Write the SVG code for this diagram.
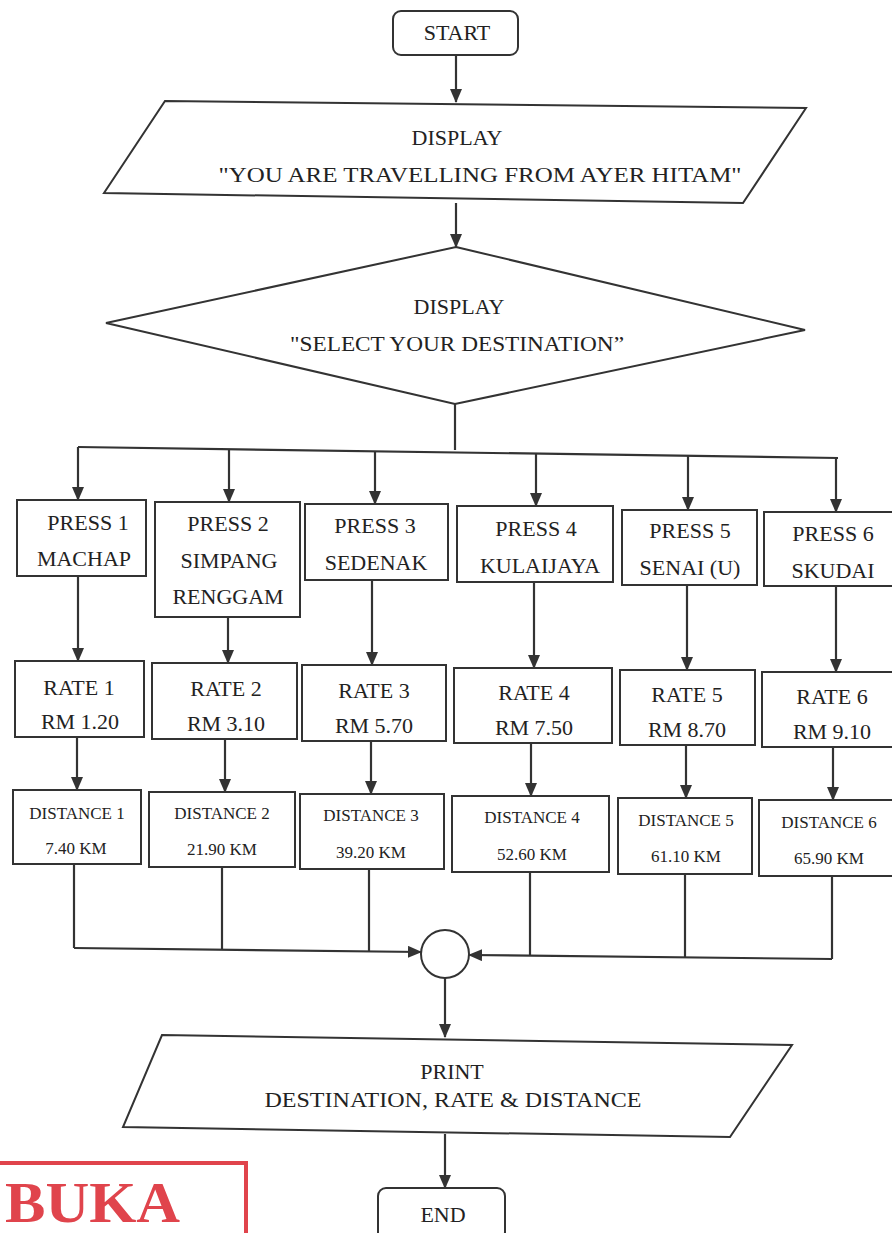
<svg xmlns="http://www.w3.org/2000/svg" width="892" height="1233" viewBox="0 0 892 1233" font-family="'Liberation Serif', 'Times New Roman', serif">
<defs>
<marker id="ah" markerUnits="userSpaceOnUse" markerWidth="14" markerHeight="12" refX="13" refY="6" orient="auto">
<path d="M0,0 L14,6 L0,12 z" fill="#333"/>
</marker>
<style>
.s{fill:#fff;stroke:#333;stroke-width:2}
.c{fill:none;stroke:#333;stroke-width:2.2}
.a{marker-end:url(#ah)}
.t{font-size:22px;fill:#222;text-anchor:middle}
.d{font-size:17px}
</style>
</defs>
<rect width="892" height="1233" fill="#fff"/>

<g id="connectors">
<path class="c a" d="M456,55 V102"/>
<path class="c a" d="M456,203 V247"/>
<path class="c" d="M455,404 V450"/>
<path class="c" d="M78,447 L838,458"/>
<path class="c a" d="M78,447 V500"/>
<path class="c a" d="M229,449 V502"/>
<path class="c a" d="M375,451 V504"/>
<path class="c a" d="M536,453 V506"/>
<path class="c a" d="M688,455 V510"/>
<path class="c a" d="M836,457 V512"/>
<path class="c a" d="M78,576 V661"/>
<path class="c a" d="M228,617 V663"/>
<path class="c a" d="M372,580 V665"/>
<path class="c a" d="M534,582 V668"/>
<path class="c a" d="M687,585 V670"/>
<path class="c a" d="M836,586 V672"/>
<path class="c a" d="M77,737 V790"/>
<path class="c a" d="M225,739 V792"/>
<path class="c a" d="M371,741 V794"/>
<path class="c a" d="M531,743 V796"/>
<path class="c a" d="M686,745 V798"/>
<path class="c a" d="M833,747 V800"/>
<path class="c" d="M74,864 V948"/>
<path class="c" d="M222,867 V950"/>
<path class="c" d="M369,869 V951"/>
<path class="c a" d="M74,948 L421,952"/>
<path class="c" d="M530,872 V956"/>
<path class="c" d="M685,874 V957"/>
<path class="c" d="M832,876 V959"/>
<path class="c a" d="M832,959 L469,955"/>
<path class="c a" d="M445,978 V1037"/>
<path class="c a" d="M445,1134 V1188"/>
</g>

<g id="start">
<rect class="s" x="393" y="11" width="125" height="44" rx="8"/>
<text class="t" x="457" y="40" font-size="21">START</text>
</g>

<g id="display1">
<polygon class="s" points="165,101 806,108 743,203 104,193"/>
<text class="t" x="457" y="145">DISPLAY</text>
<text class="t" x="480" y="182" textLength="523" lengthAdjust="spacingAndGlyphs">"YOU ARE TRAVELLING FROM AYER HITAM"</text>
</g>

<g id="display2">
<polygon class="s" points="456,247 805,330 455,404 106,323"/>
<text class="t" x="459" y="314">DISPLAY</text>
<text class="t" x="457" y="351" textLength="334" lengthAdjust="spacingAndGlyphs">"SELECT YOUR DESTINATION”</text>
</g>

<g id="press1"><rect class="s" x="17" y="500" width="129" height="76"/>
<text class="t" x="88" y="530">PRESS 1</text><text class="t" x="84" y="566">MACHAP</text></g>
<g id="press2"><rect class="s" x="155" y="502" width="145" height="115"/>
<text class="t" x="228" y="531">PRESS 2</text><text class="t" x="229" y="568">SIMPANG</text><text class="t" x="228" y="604">RENGGAM</text></g>
<g id="press3"><rect class="s" x="305" y="504" width="143" height="76"/>
<text class="t" x="375" y="533">PRESS 3</text><text class="t" x="376" y="570">SEDENAK</text></g>
<g id="press4"><rect class="s" x="457" y="506" width="156" height="76"/>
<text class="t" x="536" y="536">PRESS 4</text><text class="t" x="540" y="573">KULAIJAYA</text></g>
<g id="press5"><rect class="s" x="622" y="510" width="135" height="75"/>
<text class="t" x="690" y="538">PRESS 5</text><text class="t" x="690" y="575">SENAI (U)</text></g>
<g id="press6"><rect class="s" x="764" y="512" width="130" height="74"/>
<text class="t" x="833" y="541">PRESS 6</text><text class="t" x="833" y="578">SKUDAI</text></g>

<g id="rate1"><rect class="s" x="15" y="661" width="129" height="76"/>
<text class="t" x="79" y="695">RATE 1</text><text class="t" x="80" y="729">RM 1.20</text></g>
<g id="rate2"><rect class="s" x="152" y="663" width="145" height="76"/>
<text class="t" x="226" y="696">RATE 2</text><text class="t" x="226" y="731">RM 3.10</text></g>
<g id="rate3"><rect class="s" x="302" y="665" width="144" height="76"/>
<text class="t" x="374" y="698">RATE 3</text><text class="t" x="374" y="733">RM 5.70</text></g>
<g id="rate4"><rect class="s" x="454" y="668" width="158" height="75"/>
<text class="t" x="534" y="700">RATE 4</text><text class="t" x="534" y="735">RM 7.50</text></g>
<g id="rate5"><rect class="s" x="620" y="670" width="135" height="75"/>
<text class="t" x="687" y="702">RATE 5</text><text class="t" x="687" y="737">RM 8.70</text></g>
<g id="rate6"><rect class="s" x="762" y="672" width="132" height="75"/>
<text class="t" x="832" y="704">RATE 6</text><text class="t" x="832" y="739">RM 9.10</text></g>

<g id="dist1"><rect class="s" x="13" y="790" width="128" height="74"/>
<text class="t d" x="77" y="819">DISTANCE 1</text><text class="t d" x="76" y="854">7.40 KM</text></g>
<g id="dist2"><rect class="s" x="149" y="792" width="146" height="75"/>
<text class="t d" x="222" y="819">DISTANCE 2</text><text class="t d" x="222" y="855">21.90 KM</text></g>
<g id="dist3"><rect class="s" x="300" y="794" width="144" height="75"/>
<text class="t d" x="371" y="821">DISTANCE 3</text><text class="t d" x="371" y="858">39.20 KM</text></g>
<g id="dist4"><rect class="s" x="452" y="796" width="157" height="76"/>
<text class="t d" x="532" y="823">DISTANCE 4</text><text class="t d" x="532" y="860">52.60 KM</text></g>
<g id="dist5"><rect class="s" x="618" y="798" width="134" height="76"/>
<text class="t d" x="686" y="826">DISTANCE 5</text><text class="t d" x="686" y="862">61.10 KM</text></g>
<g id="dist6"><rect class="s" x="759" y="800" width="135" height="76"/>
<text class="t d" x="829" y="828">DISTANCE 6</text><text class="t d" x="829" y="864">65.90 KM</text></g>

<g id="connector-node"><circle class="s" cx="445" cy="954" r="24"/></g>

<g id="print">
<polygon class="s" points="162,1035 792,1045 730,1137 123,1127"/>
<text class="t" x="452" y="1079">PRINT</text>
<text class="t" x="453" y="1107" textLength="377" lengthAdjust="spacingAndGlyphs">DESTINATION, RATE &amp; DISTANCE</text>
</g>

<g id="end">
<rect class="s" x="378" y="1188" width="127" height="52" rx="8"/>
<text class="t" x="443" y="1222" font-size="19">END</text>
</g>

<g id="stamp">
<path d="M0,1163 H246 V1233" fill="none" stroke="#e0444c" stroke-width="4"/>
<text x="5" y="1222" font-weight="bold" font-size="56" fill="#e0444c" textLength="175" lengthAdjust="spacingAndGlyphs">BUKA</text>
</g>
</svg>
